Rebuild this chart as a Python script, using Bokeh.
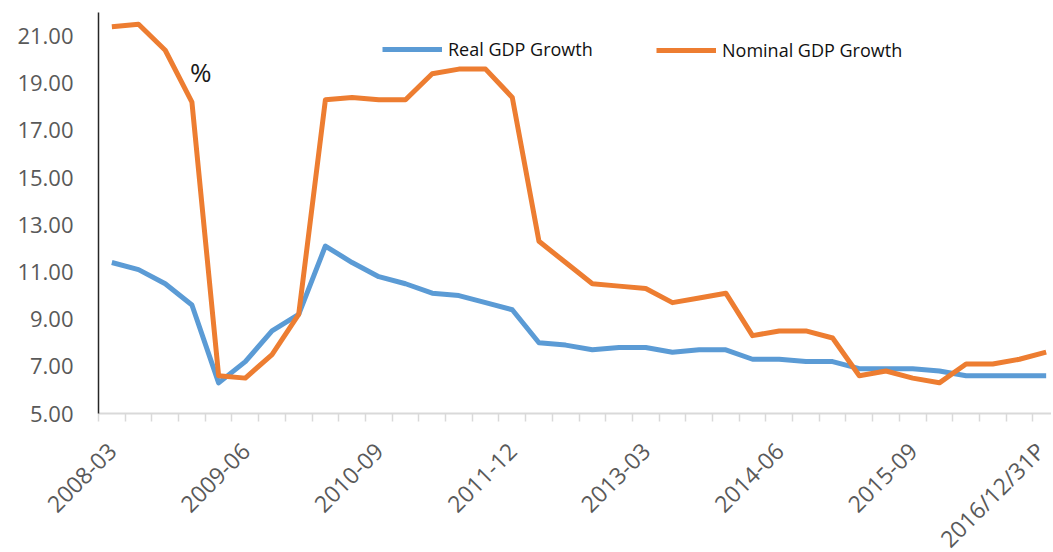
from bokeh.plotting import figure
from bokeh.models import FixedTicker, Legend, LegendItem, Label, Range1d, NumeralTickFormatter
from bokeh.embed import file_html
from bokeh.resources import INLINE

categories = [
    "2008-03", "2008-06", "2008-09", "2008-12",
    "2009-03", "2009-06", "2009-09", "2009-12",
    "2010-03", "2010-06", "2010-09", "2010-12",
    "2011-03", "2011-06", "2011-09", "2011-12",
    "2012-03", "2012-06", "2012-09", "2012-12",
    "2013-03", "2013-06", "2013-09", "2013-12",
    "2014-03", "2014-06", "2014-09", "2014-12",
    "2015-03", "2015-06", "2015-09", "2015-12",
    "2016-03", "2016-06", "2016-09", "2016/12/31P",
]
real_gdp = [11.4, 11.1, 10.5, 9.6, 6.3, 7.2, 8.5, 9.2,
            12.1, 11.4, 10.8, 10.5, 10.1, 10.0, 9.7, 9.4,
            8.0, 7.9, 7.7, 7.8, 7.8, 7.6, 7.7, 7.7,
            7.3, 7.3, 7.2, 7.2, 6.9, 6.9, 6.9, 6.8,
            6.6, 6.6, 6.6, 6.6]
nominal_gdp = [21.4, 21.5, 20.4, 18.2, 6.6, 6.5, 7.5, 9.2,
               18.3, 18.4, 18.3, 18.3, 19.4, 19.6, 19.6, 18.4,
               12.3, 11.4, 10.5, 10.4, 10.3, 9.7, 9.9, 10.1,
               8.3, 8.5, 8.5, 8.2, 6.6, 6.8, 6.5, 6.3,
               7.1, 7.1, 7.3, 7.6]
y_ticks = [5, 7, 9, 11, 13, 15, 17, 19, 21]
label_every = 5

BLUE = "#5B9BD5"
ORANGE = "#ED7D31"
GREY = "#595959"

xs = list(range(len(categories)))

p = figure(frame_width=953, frame_height=401, output_backend="svg",
           toolbar_location=None, x_range=Range1d(-0.5, 35.2), y_range=Range1d(5, 22),
           min_border_left=98, min_border_top=12, min_border_right=0)
p.background_fill_color = "white"
p.border_fill_color = "white"
p.outline_line_color = None
p.xgrid.visible = False
p.ygrid.visible = False

r_real = p.line(xs, real_gdp, line_color=BLUE, line_width=5, line_join="round")
r_nom = p.line(xs, nominal_gdp, line_color=ORANGE, line_width=5, line_join="round")

# x axis
major = [i for i in xs if i % label_every == 0]
p.xaxis.ticker = FixedTicker(ticks=major, minor_ticks=[i - 0.5 for i in range(len(categories) + 1)])
p.xaxis.major_label_overrides = {i: categories[i] for i in major}
p.xaxis.major_label_orientation = 0.785398
p.xaxis.major_tick_line_color = None
p.xaxis.major_tick_out = 0
p.xaxis.major_tick_in = 0
p.xaxis.minor_tick_line_color = "#d9d9d9"
p.xaxis.minor_tick_line_width = 1.5
p.xaxis.minor_tick_out = 8
p.xaxis.minor_tick_in = 0
p.xaxis.axis_line_color = "#d9d9d9"
p.xaxis.axis_line_width = 2
p.xaxis.major_label_text_font = "Open Sans"
p.xaxis.major_label_text_font_size = "23px"
p.xaxis.major_label_text_color = GREY
p.xaxis.major_label_standoff = 25

# y axis
p.yaxis.ticker = FixedTicker(ticks=y_ticks, minor_ticks=[])
p.yaxis.formatter = NumeralTickFormatter(format="0.00")
p.yaxis.major_tick_line_color = None
p.yaxis.major_tick_out = 0
p.yaxis.major_tick_in = 0
p.yaxis.minor_tick_line_color = None
p.yaxis.axis_line_color = "#262626"
p.yaxis.axis_line_width = 1.5
p.yaxis.major_label_text_font = "Open Sans"
p.yaxis.major_label_text_font_size = "22px"
p.yaxis.major_label_text_color = GREY
p.yaxis.major_label_standoff = 25

legend_style = dict(label_text_font="Open Sans", label_text_font_size="18px",
                    label_text_color="#111111", glyph_width=60, glyph_height=20,
                    label_standoff=6, padding=0, margin=0, border_line_color=None,
                    background_fill_alpha=0)
leg1 = Legend(items=[LegendItem(label="Real GDP Growth", renderers=[r_real])],
              location=(284, 352), **legend_style)
leg2 = Legend(items=[LegendItem(label="Nominal GDP Growth", renderers=[r_nom])],
              location=(558, 351), **legend_style)
p.add_layout(leg1)
p.add_layout(leg2)

p.add_layout(Label(x=2.93, y=19.47, text="%", text_font="Open Sans",
                   text_font_size="26px", text_color="#1a1a1a", text_baseline="alphabetic"))

open("out.html", "w").write(file_html(p, INLINE))
